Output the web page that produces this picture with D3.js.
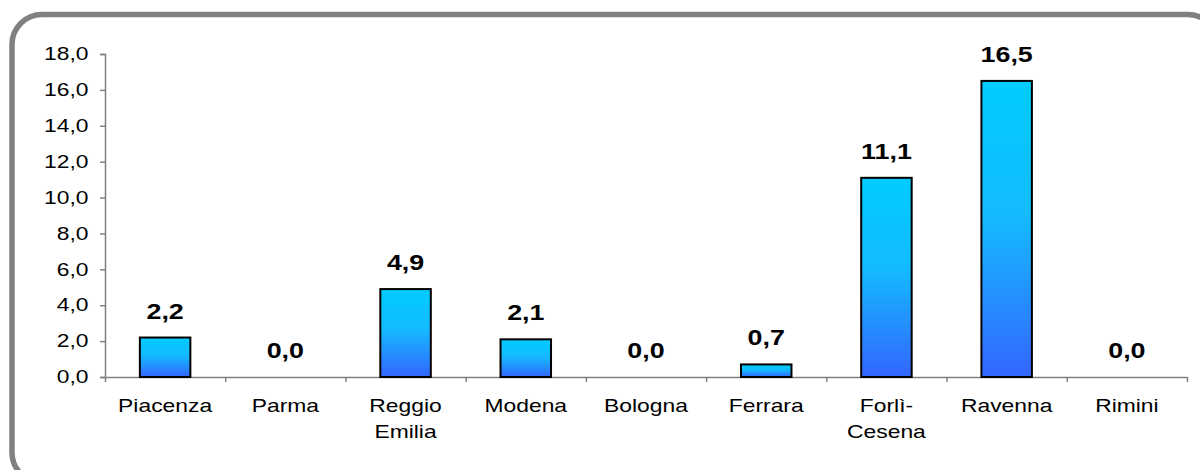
<!DOCTYPE html>
<html>
<head>
<meta charset="utf-8">
<script src="https://cdn.jsdelivr.net/npm/d3@7"></script>
<style>
  body { margin: 0; background: #fff; }
  svg { display: block; }
</style>
</head>
<body>
<svg id="chart"></svg>
<script>
// data
var provinces = ["Piacenza", "Parma", "Reggio Emilia", "Modena", "Bologna", "Ferrara", "Forlì-Cesena", "Ravenna", "Rimini"];
var labelLines = [["Piacenza"], ["Parma"], ["Reggio", "Emilia"], ["Modena"], ["Bologna"], ["Ferrara"], ["Forlì-", "Cesena"], ["Ravenna"], ["Rimini"]];
var values = [2.2, 0.0, 4.9, 2.1, 0.0, 0.7, 11.1, 16.5, 0.0];
var yTicks = [0, 2, 4, 6, 8, 10, 12, 14, 16, 18];

var svgWidth = 1200, svgHeight = 470;
var plotLeft = 105, plotRight = 1187, plotTop = 54, plotBottom = 377;
var stretch = 1.27, stretchBold = 1.22;

var svg = d3.select("#chart")
    .attr("width", svgWidth)
    .attr("height", svgHeight);

function fmt(d) { return d.toFixed(1).replace(".", ","); }

// frame
svg.append("rect")
    .attr("x", 12).attr("y", 14.5)
    .attr("width", 1206).attr("height", 468)
    .attr("rx", 30).attr("ry", 30)
    .attr("fill", "none")
    .attr("stroke", "#808080")
    .attr("stroke-width", 5.5);

var grad = svg.append("defs").append("linearGradient")
    .attr("id", "barGrad")
    .attr("x1", 0).attr("y1", 0).attr("x2", 0).attr("y2", 1);
grad.append("stop").attr("offset", "0%").attr("stop-color", "#00CCFF");
grad.append("stop").attr("offset", "45%").attr("stop-color", "#14BBFF");
grad.append("stop").attr("offset", "100%").attr("stop-color", "#3366FF");

var x = d3.scaleBand()
    .domain(provinces)
    .range([plotLeft, plotRight])
    .paddingInner(0.58)
    .paddingOuter(0.29);

var xEdge = d3.scaleLinear()
    .domain([0, provinces.length])
    .range([plotLeft, plotRight]);

var y = d3.scaleLinear()
    .domain([0, 18])
    .range([plotBottom, plotTop]);

// y axis
var gy = svg.append("g")
    .attr("transform", "translate(" + plotLeft + ",0)")
    .call(d3.axisLeft(y).tickValues(yTicks).tickFormat(fmt).tickSize(5).tickPadding(8));
gy.select(".domain").attr("stroke", "#808080").attr("stroke-width", 1.5);
gy.selectAll(".tick line").attr("stroke", "#808080").attr("stroke-width", 1.5);
gy.selectAll(".tick text")
    .attr("font-family", "'Liberation Sans', Arial, sans-serif")
    .attr("font-size", 18)
    .attr("transform", "scale(" + stretch + ",1)")
    .attr("fill", "#000");

// x axis: ticks at category boundaries
var gx = svg.append("g")
    .attr("transform", "translate(0," + plotBottom + ")")
    .call(d3.axisBottom(xEdge).tickValues(d3.range(0, provinces.length + 1)).tickFormat("").tickSize(5).tickSizeOuter(0));
gx.select(".domain").attr("stroke", "#808080").attr("stroke-width", 1.5);
gx.selectAll(".tick line").attr("stroke", "#808080").attr("stroke-width", 1.5);

// category labels
var cat = svg.append("g").selectAll("text")
    .data(provinces)
    .enter().append("text")
    .attr("transform", function(d) {
        return "translate(" + (x(d) + x.bandwidth() / 2) + ",412) scale(" + stretch + ",1)";
    })
    .attr("text-anchor", "middle")
    .attr("font-family", "'Liberation Sans', Arial, sans-serif")
    .attr("font-size", 18)
    .attr("fill", "#000");
cat.each(function(d, i) {
    var t = d3.select(this);
    labelLines[i].forEach(function(line, j) {
        t.append("tspan")
            .attr("x", 0)
            .attr("dy", j === 0 ? 0 : 26)
            .text(line);
    });
});

// bars
svg.append("g").selectAll("rect")
    .data(values.map(function(v, i) { return { name: provinces[i], value: v }; }).filter(function(d) { return d.value > 0; }))
    .enter().append("rect")
    .attr("x", function(d) { return x(d.name); })
    .attr("y", function(d) { return y(d.value); })
    .attr("width", x.bandwidth())
    .attr("height", function(d) { return y(0) - y(d.value); })
    .attr("fill", "url(#barGrad)")
    .attr("stroke", "#000")
    .attr("stroke-width", 2);

// value labels
svg.append("g").selectAll("text")
    .data(values)
    .enter().append("text")
    .attr("transform", function(d, i) {
        return "translate(" + (x(provinces[i]) + x.bandwidth() / 2) + "," + (y(d) - 19) + ") scale(" + stretchBold + ",1)";
    })
    .attr("text-anchor", "middle")
    .attr("font-family", "'Liberation Sans', Arial, sans-serif")
    .attr("font-size", 22)
    .attr("font-weight", "bold")
    .attr("fill", "#000")
    .text(fmt);
</script>
</body>
</html>
